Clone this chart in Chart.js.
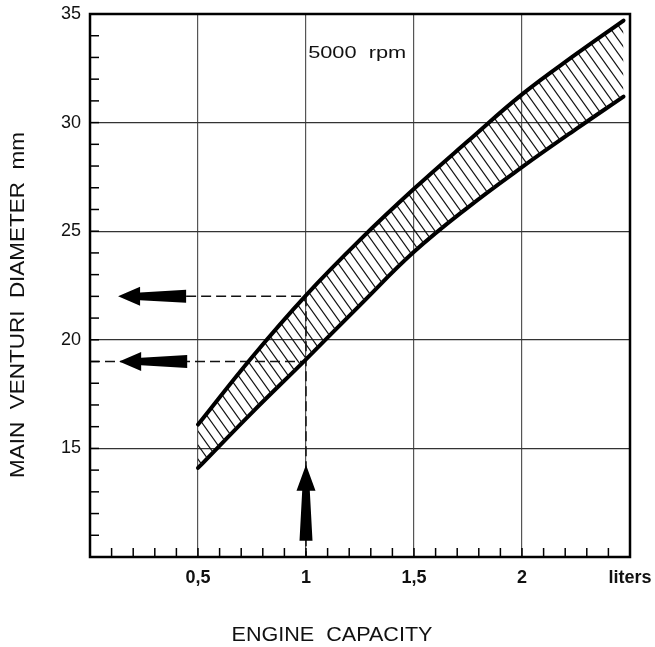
<!DOCTYPE html>
<html><head><meta charset="utf-8">
<script src="https://cdn.jsdelivr.net/npm/chart.js@4/dist/chart.umd.min.js"></script>
<style>html,body{margin:0;padding:0;background:#fff;}</style>
</head><body>
<canvas id="c" width="655" height="647"></canvas>
<script>
// ---- data ----
const capacity      = [0.5, 0.75, 1, 1.25, 1.5, 1.75, 2, 2.25, 2.47];
const upperDiameter = [16.1, 19.2, 22.05, 24.6, 26.95, 29.15, 31.3, 33.15, 34.7];
const lowerDiameter = [14.1, 16.65, 19.1, 21.6, 24.05, 26.1, 27.95, 29.7, 31.2];
const xTickValues = [0.5, 1, 1.5, 2, 2.5];
const xTickLabels = ['0,5', '1', '1,5', '2', 'liters'];
const yTickValues = [15, 20, 25, 30, 35];
const readCapacity = 1;
const readDiameters = [22, 19];
const arrowTails = [[0.445, 22], [0.45, 19], [1, 10.75]];
const arrowTips  = [[0.13, 22], [0.135, 19], [1, 14.25]];
const noteText = '5000  rpm';
const noteAt = [1.01, 33.2];
const xTitle = 'ENGINE  CAPACITY';
const yTitle = 'MAIN  VENTURI  DIAMETER  mm';

// ---- hatch pattern ----
function makeHatch() {
  const w = 10, h = 14;
  const c = document.createElement('canvas'); c.width = w; c.height = h;
  const g = c.getContext('2d');
  g.strokeStyle = '#111'; g.lineWidth = 1.2;
  for (const dx of [-w, 0, w]) {
    g.beginPath(); g.moveTo(dx - w, -h); g.lineTo(dx + 2 * w, 2 * h); g.stroke();
  }
  return g.createPattern(c, 'repeat');
}

const pts = (xs, ys) => xs.map((x, i) => ({ x, y: ys[i] }));
const dash = { borderColor: '#111', borderWidth: 1.5, borderDash: [10, 5], pointRadius: 0, fill: false, tension: 0 };

const datasets = [
  { data: pts(capacity, upperDiameter), borderColor: '#000', borderWidth: 4, pointRadius: 0,
    tension: 0.4, fill: '+1', backgroundColor: makeHatch(), borderCapStyle: 'round' },
  { data: pts(capacity, lowerDiameter), borderColor: '#000', borderWidth: 4, pointRadius: 0,
    tension: 0.4, fill: false, borderCapStyle: 'round' },
  Object.assign({ data: [{ x: arrowTails[0][0], y: readDiameters[0] }, { x: readCapacity, y: readDiameters[0] }] }, dash),
  Object.assign({ data: [{ x: 0, y: readDiameters[1] }, { x: readCapacity, y: readDiameters[1] }] }, dash),
  Object.assign({ data: [{ x: readCapacity, y: readDiameters[0] }, { x: readCapacity, y: 10 }] }, dash),
];

function drawStretched(ctx, text, cx, cy, targetW, font, rot) {
  ctx.save();
  ctx.font = font; ctx.fillStyle = '#111'; ctx.textAlign = 'center'; ctx.textBaseline = 'middle';
  const w = ctx.measureText(text).width;
  ctx.translate(cx, cy);
  if (rot) ctx.rotate(rot);
  ctx.scale(targetW / w, 1);
  ctx.fillText(text, 0, 0);
  ctx.restore();
}

const decor = {
  id: 'decor',
  afterDatasetsDraw(chart) {
    const { ctx, chartArea: a, scales: { x, y } } = chart;
    ctx.save();
    ctx.strokeStyle = '#000'; ctx.lineWidth = 1.5;
    x.ticks.forEach(t => { const p = x.getPixelForValue(t.value);
      ctx.beginPath(); ctx.moveTo(p, a.bottom); ctx.lineTo(p, a.bottom - 9); ctx.stroke(); });
    y.ticks.forEach(t => { const p = y.getPixelForValue(t.value);
      ctx.beginPath(); ctx.moveTo(a.left, p); ctx.lineTo(a.left + 9, p); ctx.stroke(); });
    ctx.lineWidth = 2.5;
    ctx.strokeRect(a.left, a.top, a.width, a.height);
    // arrows
    ctx.fillStyle = '#000';
    arrowTips.forEach((tip, i) => {
      const T = [x.getPixelForValue(tip[0]), y.getPixelForValue(tip[1])];
      const S = [x.getPixelForValue(arrowTails[i][0]), y.getPixelForValue(arrowTails[i][1])];
      const dx = T[0] - S[0], dy = T[1] - S[1], L = Math.hypot(dx, dy);
      const u = [dx / L, dy / L], n = [-u[1], u[0]];
      const vertical = Math.abs(u[1]) > 0.5;
      const hl = vertical ? 26 : 22, hh = 9.5, sh = 3.8, st = 6.5;
      const B = [T[0] - u[0] * hl, T[1] - u[1] * hl];
      const P = (o, k) => [o[0] + n[0] * k, o[1] + n[1] * k];
      const poly = [T, P(B, hh), P(B, sh), P(S, st), P(S, -st), P(B, -sh), P(B, -hh)];
      ctx.beginPath(); poly.forEach((p, j) => j ? ctx.lineTo(p[0], p[1]) : ctx.moveTo(p[0], p[1]));
      ctx.closePath(); ctx.fill();
    });
    ctx.restore();
  },
  afterDraw(chart) {
    const { ctx, scales: { x, y } } = chart;
    ctx.save();
    const nx = x.getPixelForValue(noteAt[0]), ny = y.getPixelForValue(noteAt[1]);
    drawStretched(ctx, noteText, nx + 49, ny, 98, '16px "Liberation Sans"', 0);
    drawStretched(ctx, xTitle, 332, 635, 201, '21px "Liberation Sans"', 0);
    drawStretched(ctx, yTitle, 18, 305, 346, '21px "Liberation Sans"', -Math.PI / 2);
    ctx.restore();
  }
};

new Chart(document.getElementById('c'), {
  type: 'line',
  data: { datasets },
  plugins: [decor],
  options: {
    responsive: false, animation: false, devicePixelRatio: 1,
    layout: { padding: { left: 0, right: 25, top: 14, bottom: 0 } },
    plugins: { legend: { display: false }, tooltip: { enabled: false } },
    scales: {
      x: {
        type: 'linear', min: 0, max: 2.5,
        border: { display: false },
        grid: { drawTicks: false, lineWidth: 1.2,
          color: c => { const k = Math.round(c.tick.value * 10); return (k % 5 === 0 && k > 0 && k < 25) ? '#555' : 'rgba(0,0,0,0)'; } },
        ticks: { stepSize: 0.1, autoSkip: false, maxRotation: 0, padding: 10, color: '#111',
          font: { family: 'Liberation Sans', size: 18, weight: 'bold' },
          callback: v => { const k = Math.round(v * 10); const i = xTickValues.findIndex(t => Math.round(t * 10) === k); return i >= 0 ? xTickLabels[i] : ''; } },
        afterFit: s => { s.height = 90; s.paddingLeft = 0; s.paddingRight = 0; }
      },
      y: {
        type: 'linear', min: 10, max: 35,
        border: { display: false },
        grid: { drawTicks: false, lineWidth: 1.2,
          color: c => { const v = Math.round(c.tick.value); return (v % 5 === 0 && v > 10 && v < 35) ? '#333' : 'rgba(0,0,0,0)'; } },
        ticks: { stepSize: 1, autoSkip: false, padding: 9, color: '#111',
          font: { family: 'Liberation Sans', size: 18 },
          callback: v => yTickValues.includes(Math.round(v)) ? String(Math.round(v)) : '' },
        afterFit: s => { s.width = 90; s.paddingTop = 0; s.paddingBottom = 0; }
      }
    }
  }
});
</script>
</body></html>
